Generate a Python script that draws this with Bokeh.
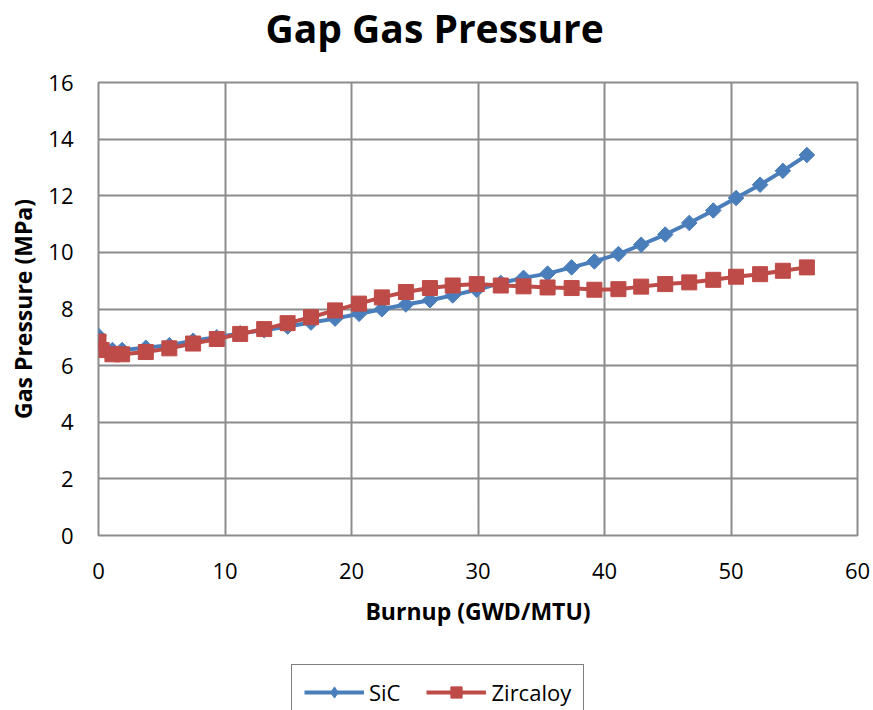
from bokeh.plotting import figure
from bokeh.layouts import column
from bokeh.models import Range1d, Legend, LegendItem, FixedTicker
from bokeh.embed import file_html
from bokeh.resources import INLINE

burnup = [0, 0.25, 1.1, 1.87, 3.74, 5.6, 7.48, 9.35, 11.2, 13.1, 14.95, 16.8, 18.7,
          20.6, 22.4, 24.3, 26.2, 28.0, 29.9, 31.8, 33.6, 35.5, 37.4, 39.2, 41.1,
          42.9, 44.8, 46.7, 48.6, 50.4, 52.3, 54.1, 56.0]
sic = [7.05, 6.70, 6.55, 6.55, 6.63, 6.72, 6.88, 7.0, 7.14, 7.25, 7.38, 7.52, 7.66,
       7.83, 7.99, 8.16, 8.31, 8.48, 8.68, 8.92, 9.1, 9.25, 9.47, 9.68, 9.94,
       10.27, 10.63, 11.04, 11.48, 11.92, 12.39, 12.88, 13.44]
zircaloy = [6.85, 6.55, 6.40, 6.40, 6.48, 6.61, 6.78, 6.94, 7.12, 7.29, 7.5, 7.71, 7.95,
            8.19, 8.41, 8.6, 8.74, 8.83, 8.88, 8.83, 8.8, 8.76, 8.74, 8.68, 8.70,
            8.79, 8.88, 8.94, 9.03, 9.14, 9.23, 9.35, 9.47]
x_ticks = [0, 10, 20, 30, 40, 50, 60]
y_ticks = [0, 2, 4, 6, 8, 10, 12, 14, 16]
series_names = ["SiC", "Zircaloy"]

FONT = "Open Sans"
BLUE = "#4A7EBB"
RED = "#BE4B48"
GRID = "#8c8c8c"

p = figure(width=873, height=655, output_backend="svg", toolbar_location=None,
           x_range=Range1d(0, 60), y_range=Range1d(0, 16),
           min_border_left=98, min_border_right=16, min_border_top=82, min_border_bottom=120,
           title="Gap Gas Pressure\n")
p.title.align = "left"
p.title.offset = 167
p.title.vertical_align = "top"
p.title.text_font = FONT
p.title.text_font_size = "39px"
p.title.text_font_style = "bold"
p.title.text_color = "black"
p.title.text_line_height = 0.5
p.title.standoff = 0

p.outline_line_color = GRID
p.outline_line_width = 2

for ax in (p.xaxis, p.yaxis):
    ax.axis_line_color = None
    ax.major_tick_line_color = None
    ax.minor_tick_line_color = None
    ax.major_tick_out = 0
    ax.major_tick_in = 0
    ax.major_label_text_font = FONT
    ax.major_label_text_font_size = "22px"
    ax.major_label_text_color = "black"
    ax.axis_label_text_font = FONT
    ax.axis_label_text_font_size = "23px"
    ax.axis_label_text_font_style = "bold"
    ax.axis_label_text_color = "black"

p.xaxis.ticker = FixedTicker(ticks=x_ticks)
p.yaxis.ticker = FixedTicker(ticks=y_ticks)
p.xaxis.axis_label = "Burnup (GWD/MTU)"
p.yaxis.axis_label = "Gas Pressure (MPa)"
p.xaxis.major_label_standoff = 27
p.yaxis.major_label_standoff = 25
p.xaxis.axis_label_standoff = 13
p.yaxis.axis_label_standoff = 6

for g in (p.xgrid, p.ygrid):
    g.grid_line_color = GRID
    g.grid_line_width = 2
p.xgrid.ticker = FixedTicker(ticks=x_ticks)
p.ygrid.ticker = FixedTicker(ticks=y_ticks)

p.line(burnup, sic, line_color=BLUE, line_width=4)
p.scatter(burnup, sic, marker="square", angle=0.785398, size=11,
          fill_color=BLUE, line_color=BLUE)
p.line(burnup, zircaloy, line_color=RED, line_width=4)
p.scatter(burnup, zircaloy, marker="square", size=15,
          fill_color=RED, line_color=RED)

# legend strip below the chart (series drawn out of view, used as legend keys)
q = figure(width=873, height=55, output_backend="svg", toolbar_location=None,
           x_range=Range1d(-200, -100), y_range=Range1d(0, 16),
           x_axis_location=None, y_axis_location=None, min_border=0)
q.outline_line_color = None
q.grid.visible = False
k1 = q.line(burnup, sic, line_color=BLUE, line_width=4)
m1 = q.scatter(burnup, sic, marker="diamond", size=11, fill_color=BLUE, line_color=BLUE)
k2 = q.line(burnup, zircaloy, line_color=RED, line_width=4)
m2 = q.scatter(burnup, zircaloy, marker="square", size=11, fill_color=RED, line_color=RED)

legend = Legend(items=[LegendItem(label=series_names[0], renderers=[k1, m1]),
                       LegendItem(label=series_names[1], renderers=[k2, m2])],
                orientation="horizontal", location=(193, -10), margin=0,
                label_text_font=FONT, label_text_font_size="22px",
                label_text_color="black",
                glyph_width=60, glyph_height=28, label_standoff=5, spacing=26,
                padding=12, border_line_color="black", border_line_width=1.5,
                background_fill_alpha=1.0)
q.add_layout(legend, "center")

page = column(p, q, spacing=0)
open("out.html", "w").write(file_html(page, INLINE))
